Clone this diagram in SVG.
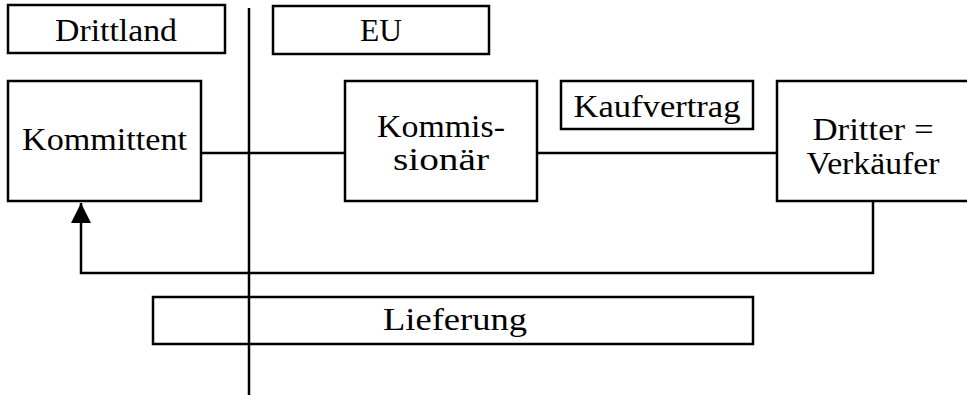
<svg xmlns="http://www.w3.org/2000/svg" width="967" height="395" viewBox="0 0 967 395">
  <style>
    .box { fill: #ffffff; stroke: #000000; stroke-width: 2.5; }
    .lbl { font-family: "Liberation Serif", "DejaVu Serif", "Noto Serif", serif; font-size: 32px; fill: #000000; text-anchor: middle; }
    .wire { fill: none; stroke: #000000; stroke-width: 2.5; }
  </style>
  <defs>
    <marker id="arrow" markerUnits="userSpaceOnUse" markerWidth="22" markerHeight="22" viewBox="0 0 22 22" refX="21" refY="11" orient="auto">
      <path d="M1,1 L21,11 L1,21 Z" fill="#000000"/>
    </marker>
  </defs>

  <rect width="967" height="395" fill="#ffffff"/>

  <!-- connectors -->
  <g id="connectors">
    <!-- border between Drittland and EU -->
    <line class="wire" x1="249" y1="8" x2="249" y2="395"/>
    <!-- Kommittent to Kommissionär -->
    <line class="wire" x1="201" y1="153" x2="345" y2="153"/>
    <!-- Kommissionär to Dritter (Kaufvertrag) -->
    <line class="wire" x1="537" y1="153" x2="777" y2="153"/>
    <!-- delivery from Dritter back to Kommittent -->
    <polyline class="wire" points="873,201 873,273 81,273 81,203" marker-end="url(#arrow)"/>
  </g>

  <g id="drittland">
    <rect class="box" x="8" y="5" width="217" height="48"/>
    <text class="lbl" x="116" y="41" textLength="122" lengthAdjust="spacingAndGlyphs">Drittland</text>
  </g>

  <g id="eu">
    <rect class="box" x="273" y="6" width="216" height="48"/>
    <text class="lbl" x="381" y="41" textLength="42" lengthAdjust="spacingAndGlyphs">EU</text>
  </g>

  <g id="kommittent">
    <rect class="box" x="8" y="81" width="193" height="120"/>
    <text class="lbl" x="104.5" y="150" textLength="165" lengthAdjust="spacingAndGlyphs">Kommittent</text>
  </g>

  <g id="kommissionaer">
    <rect class="box" x="345" y="81" width="192" height="120"/>
    <text class="lbl" x="441" y="137" textLength="128" lengthAdjust="spacingAndGlyphs">Kommis-</text>
    <text class="lbl" x="441" y="170" textLength="96" lengthAdjust="spacingAndGlyphs">sionär</text>
  </g>

  <g id="kaufvertrag">
    <rect class="box" x="561" y="81" width="192" height="48"/>
    <text class="lbl" x="657" y="117" textLength="167" lengthAdjust="spacingAndGlyphs">Kaufvertrag</text>
  </g>

  <g id="dritter">
    <rect class="box" x="777" y="81" width="192" height="120"/>
    <text class="lbl" x="873" y="140" textLength="121" lengthAdjust="spacingAndGlyphs">Dritter =</text>
    <text class="lbl" x="873" y="174" textLength="133" lengthAdjust="spacingAndGlyphs">Verkäufer</text>
  </g>

  <g id="lieferung">
    <rect class="box" x="153" y="297" width="600" height="47" fill-opacity="0"/>
    <text class="lbl" x="455" y="330" textLength="144" lengthAdjust="spacingAndGlyphs">Lieferung</text>
  </g>
</svg>
